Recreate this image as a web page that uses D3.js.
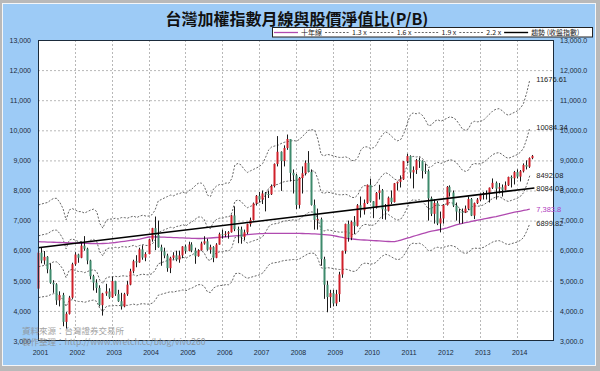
<!DOCTYPE html>
<html><head><meta charset="utf-8">
<script src="https://cdn.jsdelivr.net/npm/d3@7"></script>
<style>body{margin:0;background:#fff}svg{display:block}</style>
</head><body>
<svg id="c" width="600" height="371"></svg>
<script>
// ---------------- DATA ----------------
const startMonth = "2001-01";          // first monthly candle
const title = "台灣加權指數月線與股價淨值比(P/B)";
const yTicks = [3000,4000,5000,6000,7000,8000,9000,10000,11000,12000,13000];
const yearLabels = [2001,2002,2003,2004,2005,2006,2007,2008,2009,2010,2011,2012,2013,2014];

const open = [
4739,5936,5674,5797,5381,4935,4883,4352,4530,3636,3903,4441,
5551,5872,5765,6167,6065,5675,5153,4940,4764,4191,4579,4646,
4452,4990,4556,4321,4148,4555,4872,5318,5650,5611,6045,5771,
5890,6375,6750,6522,6117,5978,5839,5420,5765,5845,5705,5844,
6140,5994,6207,6006,5818,6012,6241,6312,6033,6118,5764,6203,
6548,6532,6561,6613,7171,6715,6704,6454,6611,6884,7021,7567,
7823,7699,7901,7884,7875,8145,8883,9287,8982,9411,9711,8586,
8506,7521,8413,8572,8920,8619,7523,7024,7046,5719,4870,4460,
4591,4248,4557,5211,5993,6890,6432,6958,6826,7509,7340,7582,
8188,7640,7436,7920,8004,7374,7329,7761,7616,8238,8287,8372,
8972,9145,8600,8683,9008,8988,8653,8644,7741,7225,7588,6904,
7072,7517,8121,7933,7501,7301,7296,7270,7397,7715,7166,7580,
7699,7850,7897,7918,8093,8254,8062,8107,8022,8173,8450,8407,
8612,8462,8639,8849,8791,9075];
const high = [
5990,6104,5990,5820,5580,5020,4920,4650,4600,3960,4500,5600,
5950,5900,6300,6484,6100,5700,5200,5050,4850,4600,4900,4750,
5141,5000,4700,4600,4600,5000,5400,5700,5850,6100,6180,5950,
6400,6760,7135,7000,6200,6100,5900,5800,5950,6000,6000,6150,
6200,6300,6280,6100,6050,6300,6480,6400,6200,6150,6250,6600,
6700,6650,6650,7200,7474,6800,6800,6700,6900,7100,7600,7850,
7950,8000,7950,8000,8200,8900,9807,9300,9500,9859,9700,8700,
8550,8450,8800,9000,9309,8700,7700,7400,7100,5800,5000,4700,
4700,4700,5300,6000,6900,7000,7000,7150,7550,7800,7700,8200,
8395,7650,7950,8190,8050,7550,7800,8000,8250,8300,8500,8980,
9220,9170,8800,9050,9100,9000,8900,8700,7800,7700,7650,7300,
7550,8150,8170,8000,7600,7400,7400,7500,7800,7750,7600,7750,
7900,7950,8000,8100,8400,8300,8250,8200,8300,8460,8500,8650,
8700,8680,8900,9000,9100,9180];
const low = [
4720,5580,5540,5250,4900,4600,4200,4150,3490,3411,3880,4400,
5500,5600,5750,6000,5550,5050,4680,4600,4150,3845,4500,4400,
4430,4500,4300,4044,4120,4500,4850,5250,5450,5600,5700,5650,
5880,6300,6020,6100,5500,5750,5300,5255,5700,5650,5600,5750,
5900,5980,5950,5565,5800,6000,6200,6000,5900,5618,5750,6200,
6400,6450,6400,6600,6650,6250,6232,6350,6550,6800,7000,7500,
7600,7550,7306,7750,7850,8100,8800,7987,8800,9350,8300,7900,
7384,7400,7900,8500,8600,7500,6700,6700,5500,4400,3955,4100,
4150,4160,4300,5100,5900,6300,6350,6550,6800,7100,7200,7550,
7600,7080,7400,7700,7050,7030,7300,7550,7600,8000,8100,8350,
8900,8400,8070,8550,8750,8400,8550,7000,7150,6900,6850,6609,
6900,7500,7800,7450,7000,6900,6900,7250,7350,7150,7050,7550,
7650,7700,7700,7600,8050,7700,7900,7800,8000,8150,8100,8200,
8400,8300,8600,8700,8750,9040];
const close = [
5936,5674,5797,5381,4935,4883,4352,4530,3636,3903,4441,5551,
5872,5765,6167,6065,5675,5153,4940,4764,4191,4579,4646,4452,
4990,4556,4321,4148,4555,4872,5318,5650,5611,6045,5771,5890,
6375,6750,6522,6117,5978,5839,5420,5765,5845,5705,5844,6140,
5994,6207,6006,5818,6012,6241,6312,6033,6118,5764,6203,6548,
6532,6561,6613,7171,6715,6704,6454,6611,6884,7021,7567,7823,
7699,7901,7884,7875,8145,8883,9287,8982,9411,9711,8586,8506,
7521,8413,8572,8920,8619,7523,7024,7046,5719,4870,4460,4591,
4248,4557,5211,5993,6890,6432,6958,6826,7509,7340,7582,8188,
7640,7436,7920,8004,7374,7329,7761,7616,8238,8287,8372,8972,
9145,8600,8683,9008,8988,8653,8644,7741,7225,7588,6904,7072,
7517,8121,7933,7501,7301,7296,7270,7397,7715,7166,7580,7699,
7850,7897,7918,8093,8254,8062,8107,8022,8173,8450,8407,8612,
8462,8639,8849,8791,9075,9150];

// book value per share (index points)
const bvps = [
3418,3432,3445,3455,3491,3518,3518,3455,3364,3191,3341,3364,
3341,3318,3318,3295,3318,3341,3355,3318,3136,3068,3182,3205,
3205,3218,3205,3227,3227,3218,3236,3250,3227,3250,3264,3250,
3250,3273,3341,3477,3500,3523,3545,3568,3555,3582,3591,3614,
3591,3636,3659,3705,3745,3750,3705,3568,3545,3659,3705,3727,
3727,3750,3745,3818,4023,4045,4023,3955,3909,3932,3955,3977,
4000,4045,4136,4250,4295,4309,4318,4345,4364,4373,4382,4391,
4382,4409,4455,4500,4545,4555,4545,4409,4182,4159,4182,4173,
4159,4145,4136,4136,4145,4127,4091,4086,4136,4250,4295,4295,
4273,4282,4318,4409,4477,4523,4500,4455,4409,4386,4409,4500,
4636,4773,4809,4795,4809,4773,4705,4614,4627,4682,4705,4682,
4705,4727,4750,4736,4705,4636,4568,4545,4568,4659,4682,4673,
4682,4705,4750,4795,4841,4864,4873,4841,4795,4773,4795,4818,
4841,4886,4955,5114,5307.55];
const pbMultiples = [1.3, 1.6, 1.9, 2.2];

// ten-year moving average of the index
const ma10 = [
6300,6296,6292,6288,6284,6280,6276,6272,6268,6264,6260,6256,
6252,6248,6245,6243,6241,6240,6239,6238,6238,6240,6243,6250,
6260,6272,6285,6298,6312,6326,6340,6355,6370,6388,6410,6432,
6455,6460,6458,6455,6452,6448,6444,6440,6436,6432,6428,6424,
6420,6416,6412,6408,6405,6405,6410,6415,6422,6430,6438,6446,
6455,6464,6473,6482,6492,6502,6512,6522,6532,6542,6552,6560,
6566,6570,6573,6575,6577,6578,6578,6578,6578,6578,6578,6577,
6577,6575,6572,6568,6564,6560,6556,6550,6544,6536,6528,6518,
6500,6480,6460,6440,6415,6400,6390,6380,6370,6362,6355,6348,
6342,6336,6330,6325,6318,6312,6306,6302,6300,6325,6355,6385,
6415,6445,6475,6505,6535,6565,6595,6625,6648,6668,6688,6708,
6730,6758,6790,6822,6855,6885,6910,6930,6950,6972,6995,7015,
7035,7055,7075,7095,7115,7135,7160,7185,7210,7235,7258,7278,
7298,7318,7338,7355,7383.8];

// trend line of closing index: value at first and last month
const trendStart = 6100;
const trendEnd = 8084.03;

// ---------------- CHART ----------------
const svg = d3.select("#c");
const PL=38, PR=554, PT=40, PB=341;
const parse = d3.timeParse("%Y-%m");
const t0 = parse(startMonth);
const dateOf = i => d3.timeMonth.offset(t0, i);
const x = d3.scaleTime().domain([new Date(2001,0,1), new Date(2015,0,1)]).range([PL, PR]);
const y = d3.scaleLinear().domain([3000,13000]).range([PB, PT]);

const FONT = "'Liberation Sans', Arial, sans-serif";
const CJK = "'Noto Sans CJK TC', 'Noto Sans CJK SC', sans-serif";

// frame
svg.append("rect").attr("width",600).attr("height",371).attr("fill","#b9b9b9");
svg.append("rect").attr("x",2).attr("y",3).attr("width",594).attr("height",363).attr("fill","#f4f6f8");
svg.append("rect").attr("x",3).attr("y",4).attr("width",592).attr("height",361).attr("fill","#9dcbf6");
// plot area
svg.append("rect").attr("x",PL).attr("y",PT).attr("width",PR-PL).attr("height",PB-PT).attr("fill","#fff");

const grid = svg.append("g");
grid.selectAll("line.h").data(yTicks.slice(1,-1)).join("line")
  .attr("x1",PL).attr("x2",PR).attr("y1",d=>y(d)+0.5).attr("y2",d=>y(d)+0.5)
  .attr("stroke","#b8b8b8").attr("stroke-dasharray","2,2");
grid.selectAll("line.v").data(yearLabels.slice(1)).join("line")
  .attr("y1",PT).attr("y2",PB).attr("x1",d=>Math.round(x(new Date(d,0,1)))+0.5).attr("x2",d=>Math.round(x(new Date(d,0,1)))+0.5)
  .attr("stroke","#b8b8b8").attr("stroke-dasharray","2,2");

// P/B bands
const nB = bvps.length;
pbMultiples.forEach(k => {
  const line = d3.line().x((d,i)=>x(dateOf(i))+0.5).y(d=>y(d*k));
  svg.append("path").attr("d", line(bvps)).attr("fill","none")
    .attr("stroke","#666").attr("stroke-width",1).attr("stroke-dasharray","2,1.6");
});
// 10y MA
svg.append("path").attr("d", d3.line().x((d,i)=>x(dateOf(i))+0.5).y(d=>y(d))(ma10))
  .attr("fill","none").attr("stroke","#b04ab0").attr("stroke-width",1.3);

// candles
const cg = svg.append("g");
close.forEach((c,i) => {
  const cx = Math.round(x(dateOf(i)))+0.5;
  cg.append("line").attr("x1",cx).attr("x2",cx).attr("y1",y(high[i])).attr("y2",y(low[i]))
    .attr("stroke","#1a1a1a").attr("stroke-width",1);
  const up = c >= open[i];
  const top = y(Math.max(c,open[i])), bot = y(Math.min(c,open[i]));
  cg.append("rect").attr("x",cx-1).attr("width",2).attr("y",top).attr("height",Math.max(1,bot-top))
    .attr("fill", up ? "#d0202a" : "#3e8a6c");
});

// trend line
const lastI = close.length-1;
svg.append("line").attr("x1",x(dateOf(0))).attr("y1",y(trendStart))
  .attr("x2",x(dateOf(lastI))+2).attr("y2",y(trendEnd))
  .attr("stroke","#000").attr("stroke-width",1.6);

// border
svg.append("rect").attr("x",PL+0.5).attr("y",PT+0.5).attr("width",PR-PL-1).attr("height",PB-PT-1)
  .attr("fill","none").attr("stroke","#1b2b3b").attr("stroke-width",1);

// axes
const yl = svg.append("g").attr("transform",`translate(${PL},0)`)
  .call(d3.axisLeft(y).tickValues(yTicks).tickFormat(d3.format(",")).tickSize(0).tickPadding(7));
const yr = svg.append("g").attr("transform",`translate(${PR},0)`)
  .call(d3.axisRight(y).tickValues(yTicks).tickFormat(d3.format(",.1f")).tickSize(0).tickPadding(6));
const xa = svg.append("g").attr("transform",`translate(0,${PB})`)
  .call(d3.axisBottom(x).tickValues(yearLabels.map(d=>new Date(d,0,1))).tickFormat(d3.timeFormat("%Y")).tickSize(0).tickPadding(9));
[yl,yr,xa].forEach(g=>{ g.select(".domain").remove();
  g.selectAll("text").attr("font-family",FONT).attr("font-size",7).attr("fill","#1c2a3a"); });
xa.selectAll("text").attr("dx",2);

// end labels
const endI = nB-1, ex = x(dateOf(endI))+7;
const endLabels = pbMultiples.map(k=>({v:bvps[endI]*k, t:d3.format(".2f")(bvps[endI]*k), c:"#222"}));
endLabels.push({v:trendEnd, t:d3.format(".2f")(trendEnd), c:"#222"});
endLabels.push({v:ma10[ma10.length-1], t:d3.format(",.1f")(ma10[ma10.length-1]), c:"#b040c0"});
svg.selectAll("text.end").data(endLabels).join("text")
  .attr("x",ex).attr("y",d=>y(d.v)).attr("dy","0.35em")
  .attr("font-family",FONT).attr("font-size",7.5).attr("fill",d=>d.c).text(d=>d.t);

// watermark
svg.append("text").attr("x",22).attr("y",334).attr("font-family",CJK).attr("font-size",8.5)
  .attr("fill","#8c8c8c").attr("opacity",0.8).text("資料來源：台灣證券交易所");
svg.append("text").attr("x",22).attr("y",345).attr("font-family",CJK).attr("font-size",8.5)
  .attr("fill","#8c8c8c").attr("opacity",0.8).text("製作整理：http://www.wretch.cc/blog/vivo260");

// title
svg.append("text").attr("x",297).attr("y",24.5).attr("text-anchor","middle")
  .attr("font-family",CJK).attr("font-size",16).attr("font-weight","bold").attr("fill","#111").text(title);

// legend
const lg = svg.append("g");
lg.append("rect").attr("x",272.5).attr("y",27.5).attr("width",320).attr("height",9.5)
  .attr("fill","#fff").attr("stroke","#222").attr("stroke-width",1);
const items = [
  {t:"十年線", c:"#b04ab0", d:null, w:1.3},
  {t:"1.3 x", c:"#666", d:"2,1.6", w:1},
  {t:"1.6 x", c:"#666", d:"2,1.6", w:1},
  {t:"1.9 x", c:"#666", d:"2,1.6", w:1},
  {t:"2.2 x", c:"#666", d:"2,1.6", w:1},
  {t:"趨勢 (收盤指數)", c:"#000", d:null, w:1.4}
];
let lx = 274;
items.forEach(it=>{
  lg.append("line").attr("x1",lx).attr("x2",lx+24).attr("y1",32.5).attr("y2",32.5)
    .attr("stroke",it.c).attr("stroke-width",it.w).attr("stroke-dasharray",it.d);
  const tx = lg.append("text").attr("x",lx+27).attr("y",32.5).attr("dy","0.35em")
    .attr("font-family",CJK).attr("font-size",7).attr("fill","#222").text(it.t);
  lx += 27 + tx.node().getComputedTextLength() + 3;
});
</script>
</body></html>
